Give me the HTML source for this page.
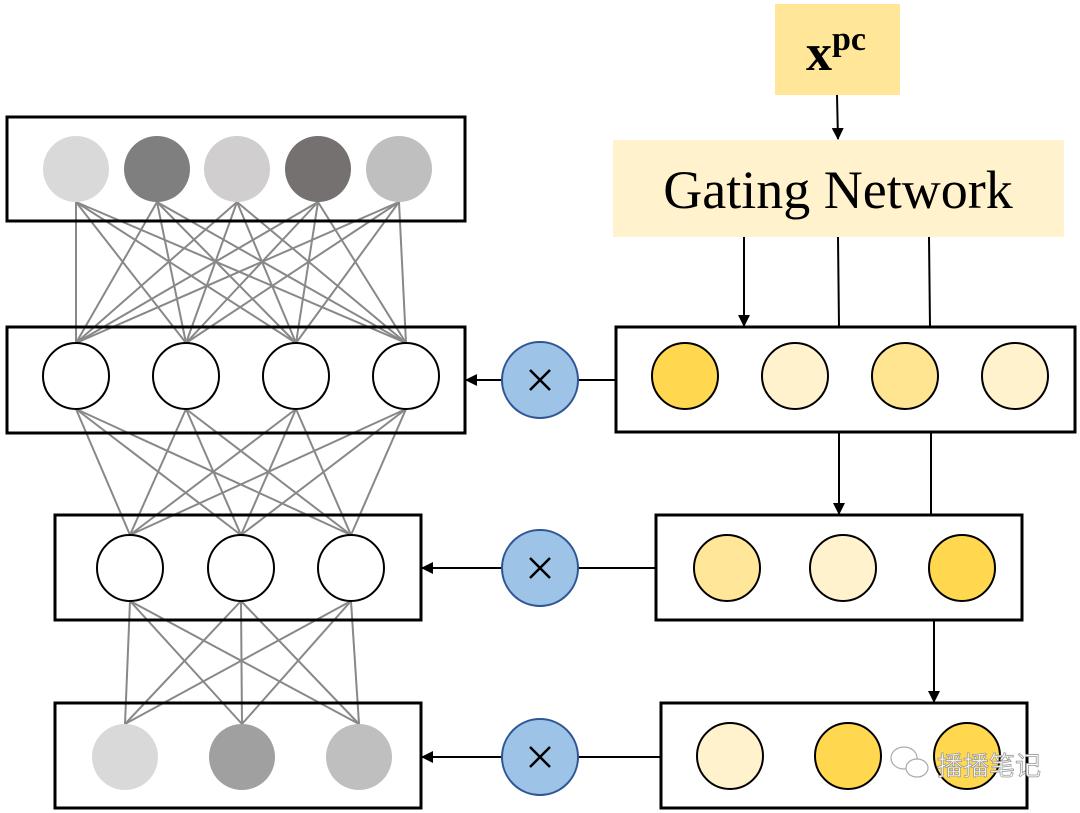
<!DOCTYPE html>
<html><head><meta charset="utf-8"><style>body{margin:0;background:#fff}svg{display:block}</style></head>
<body>
<svg width="1080" height="813" viewBox="0 0 1080 813" xmlns="http://www.w3.org/2000/svg">
<defs>
<marker id="a" markerWidth="12" markerHeight="12" refX="11" refY="6" orient="auto" markerUnits="userSpaceOnUse" viewBox="0 0 12 12"><path d="M0,0 L12,6 L0,12 z" fill="#000"/></marker>
</defs>
<g stroke="#888" stroke-width="2">
<line x1="76" y1="202" x2="76" y2="343"/><line x1="76" y1="202" x2="186" y2="343"/><line x1="76" y1="202" x2="296" y2="343"/><line x1="76" y1="202" x2="406" y2="343"/>
<line x1="157" y1="202" x2="76" y2="343"/><line x1="157" y1="202" x2="186" y2="343"/><line x1="157" y1="202" x2="296" y2="343"/><line x1="157" y1="202" x2="406" y2="343"/>
<line x1="237" y1="202" x2="76" y2="343"/><line x1="237" y1="202" x2="186" y2="343"/><line x1="237" y1="202" x2="296" y2="343"/><line x1="237" y1="202" x2="406" y2="343"/>
<line x1="318" y1="202" x2="76" y2="343"/><line x1="318" y1="202" x2="186" y2="343"/><line x1="318" y1="202" x2="296" y2="343"/><line x1="318" y1="202" x2="406" y2="343"/>
<line x1="399" y1="202" x2="76" y2="343"/><line x1="399" y1="202" x2="186" y2="343"/><line x1="399" y1="202" x2="296" y2="343"/><line x1="399" y1="202" x2="406" y2="343"/>
<line x1="76" y1="409" x2="130" y2="535"/><line x1="76" y1="409" x2="241" y2="535"/><line x1="76" y1="409" x2="351" y2="535"/>
<line x1="186" y1="409" x2="130" y2="535"/><line x1="186" y1="409" x2="241" y2="535"/><line x1="186" y1="409" x2="351" y2="535"/>
<line x1="296" y1="409" x2="130" y2="535"/><line x1="296" y1="409" x2="241" y2="535"/><line x1="296" y1="409" x2="351" y2="535"/>
<line x1="406" y1="409" x2="130" y2="535"/><line x1="406" y1="409" x2="241" y2="535"/><line x1="406" y1="409" x2="351" y2="535"/>
<line x1="130" y1="601" x2="125" y2="724"/><line x1="130" y1="601" x2="242" y2="724"/><line x1="130" y1="601" x2="359" y2="724"/>
<line x1="241" y1="601" x2="125" y2="724"/><line x1="241" y1="601" x2="242" y2="724"/><line x1="241" y1="601" x2="359" y2="724"/>
<line x1="351" y1="601" x2="125" y2="724"/><line x1="351" y1="601" x2="242" y2="724"/><line x1="351" y1="601" x2="359" y2="724"/>
</g>
<g fill="none" stroke="#000" stroke-width="3">
<rect x="7" y="117" width="458" height="104"/>
<rect x="7" y="327" width="458" height="106"/>
<rect x="55" y="515" width="366" height="105"/>
<rect x="55" y="703" width="366" height="105"/>
<rect x="616" y="327" width="459" height="105"/>
<rect x="656" y="515" width="366" height="105"/>
<rect x="661" y="703" width="366" height="105"/>
</g>
<g>
<circle cx="76" cy="169" r="33" fill="#d9d9d9"/>
<circle cx="157" cy="169" r="33" fill="#7f7f7f"/>
<circle cx="237" cy="169" r="33" fill="#d0cece"/>
<circle cx="318" cy="169" r="33" fill="#767171"/>
<circle cx="399" cy="169" r="33" fill="#bfbfbf"/>
<circle cx="125" cy="757" r="33" fill="#d9d9d9"/>
<circle cx="242" cy="757" r="33" fill="#a0a0a0"/>
<circle cx="359" cy="757" r="33" fill="#bfbfbf"/>
</g>
<g stroke="#000" stroke-width="2">
<circle cx="76" cy="376" r="33" fill="#fff"/><circle cx="186" cy="376" r="33" fill="#fff"/><circle cx="296" cy="376" r="33" fill="#fff"/><circle cx="406" cy="376" r="33" fill="#fff"/>
<circle cx="130" cy="568" r="33" fill="#fff"/><circle cx="241" cy="568" r="33" fill="#fff"/><circle cx="351" cy="568" r="33" fill="#fff"/>
<circle cx="685" cy="376" r="33" fill="#ffd84f"/><circle cx="795" cy="376" r="33" fill="#fff2cc"/><circle cx="905" cy="376" r="33" fill="#ffe591"/><circle cx="1015" cy="376" r="33" fill="#fff2cc"/>
<circle cx="727" cy="568" r="33" fill="#ffe699"/><circle cx="843" cy="568" r="33" fill="#fff2cc"/><circle cx="962" cy="568" r="33" fill="#ffd84f"/>
<circle cx="730" cy="756" r="33" fill="#fff2cc"/><circle cx="848" cy="756" r="33" fill="#ffd84f"/><circle cx="967" cy="756" r="33" fill="#ffd84f"/>
</g>
<rect x="775" y="4" width="125" height="91" fill="#ffe699"/>
<text x="836" y="70" font-family="Liberation Serif" font-weight="bold" font-size="52" text-anchor="middle">x<tspan font-size="34" dy="-20">pc</tspan></text>
<rect x="613" y="140" width="451" height="97" fill="#fff2cc"/>
<text x="838" y="208" font-family="Liberation Serif" font-size="54" text-anchor="middle">Gating Network</text>
<g stroke="#000" stroke-width="2">
<line x1="837" y1="95" x2="838" y2="139" marker-end="url(#a)"/>
<line x1="744" y1="237" x2="744" y2="326" marker-end="url(#a)"/>
<line x1="838" y1="237" x2="839" y2="327"/>
<line x1="929" y1="237" x2="930" y2="327"/>
<line x1="839" y1="432" x2="839" y2="514" marker-end="url(#a)"/>
<line x1="931" y1="432" x2="931" y2="515"/>
<line x1="934" y1="620" x2="934" y2="702" marker-end="url(#a)"/>
<line x1="616" y1="380" x2="578" y2="380"/><line x1="502" y1="380" x2="466" y2="380" marker-end="url(#a)"/>
<line x1="656" y1="568" x2="578" y2="568"/><line x1="502" y1="568" x2="422" y2="568" marker-end="url(#a)"/>
<line x1="661" y1="757" x2="578" y2="757"/><line x1="502" y1="757" x2="422" y2="757" marker-end="url(#a)"/>
</g>
<g fill="#9dc3e6" stroke="#2f5597" stroke-width="2">
<circle cx="540" cy="380" r="38"/><circle cx="540" cy="568" r="38"/><circle cx="540" cy="757" r="38"/>
</g>
<g stroke="#000" stroke-width="2.5">
<path d="M530,370 L550,390 M550,370 L530,390"/>
<path d="M530,558 L550,578 M550,558 L530,578"/>
<path d="M530,747 L550,767 M550,747 L530,767"/>
</g>
<text x="937" y="775" font-family="Liberation Sans, Noto Sans CJK SC, sans-serif" font-size="26" fill="#fff" stroke="#999" stroke-width="0.8">播播笔记</text>
<g fill="#fff" stroke="#aaa" stroke-width="1.2"><ellipse cx="904" cy="758" rx="13" ry="11"/><ellipse cx="917" cy="768" rx="11" ry="9"/></g>
</svg>
</body></html>
